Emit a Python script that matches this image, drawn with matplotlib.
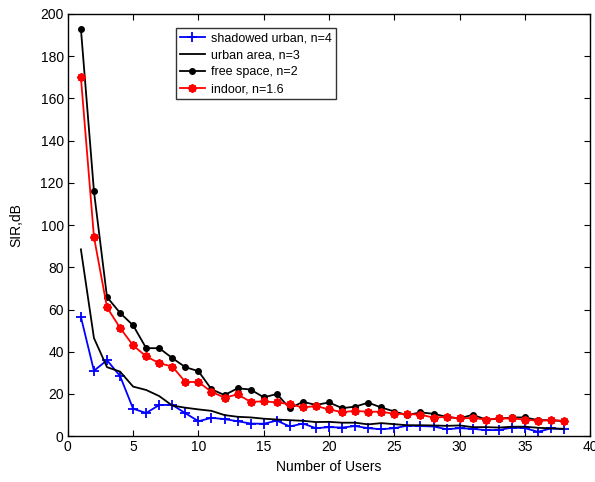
import numpy as np
import matplotlib as mpl
mpl.use("Agg")
import matplotlib.pyplot as plt

users = np.arange(1, 39)

shadowed_urban = [56.5, 31, 36, 28.5, 13, 11, 14.8, 14.8, 10.9, 7.1,
                  8.7, 8.1, 7.1, 6.0, 5.9, 7.4, 4.6, 6.0, 3.8, 4.3,
                  4.1, 4.8, 3.8, 3.3, 3.8, 5.0, 4.8, 4.6, 3.3, 3.8,
                  3.5, 2.9, 2.9, 4.1, 3.8, 2.1, 3.7, 3.3]
urban_area = [88.5, 46.5, 32.7, 30.6, 23.5, 21.9, 19, 14.5, 13.5, 12.7,
              12, 10, 9.2, 8.9, 8.3, 7.9, 7.6, 7.3, 6.7, 6.8,
              6.4, 6.4, 5.6, 6.2, 5.7, 5.2, 5.2, 5.1, 4.9, 5.1,
              4.3, 4.3, 4.1, 4.5, 4.5, 4.0, 3.7, 3.5]
free_space = [193, 116, 65.9, 58.4, 52.5, 41.7, 41.7, 37, 32.7, 30.8,
              22.2, 19.5, 22.7, 22.1, 18.4, 20, 13.2, 16.3, 14.8, 16,
              13.3, 14, 15.9, 13.6, 11.7, 10, 11.3, 10.6, 9.2, 8.4,
              10.2, 7.9, 8.2, 8.9, 8.9, 7.6, 7.6, 7.1]
indoor = [170, 94.4, 61, 51.3, 43, 37.8, 34.6, 33, 25.7, 25.7,
          21, 18.3, 19.8, 16.3, 16.5, 16, 15.2, 13.6, 14.3, 12.7,
          11.4, 12, 11.6, 11.6, 10.6, 10.5, 10.2, 8.8, 9.2, 8.4,
          8.7, 7.9, 8.4, 8.4, 7.9, 7.3, 7.6, 7.3]

mpl.rcParams.update({
    "font.family": ["Liberation Sans", "DejaVu Sans"],
    "font.size": 10,
    "xtick.direction": "in",
    "ytick.direction": "in",
    "xtick.top": True,
    "ytick.right": True,
    "axes.linewidth": 1.0,
})

fig = plt.figure(figsize=(5.95, 4.82), dpi=100)
ax = fig.add_axes([0.114, 0.095, 0.878, 0.876])

ax.plot(users, shadowed_urban, color="#0000ff", lw=1.3, marker="+",
        ms=6.5, mew=1.3, label="shadowed urban, n=4")
ax.plot(users, urban_area, color="black", lw=1.3, label="urban area, n=3")
ax.plot(users, free_space, color="black", lw=1.3, marker="o", ms=4,
        label="free space, n=2")
ax.plot(users, indoor, color="#ff0000", lw=1.3, marker=(8, 2, 0), ms=6,
        mew=1.4, label="indoor, n=1.6")

ax.set_xlim(0, 40)
ax.set_ylim(0, 200)
ax.set_xticks(range(0, 41, 5))
ax.set_yticks(range(0, 201, 20))
ax.tick_params(length=4, width=0.8, pad=3)
ax.set_xlabel("Number of Users", labelpad=4)
ax.set_ylabel("SIR,dB", labelpad=12)

leg = ax.legend(loc="upper left", bbox_to_anchor=(0.207, 0.966), fontsize=9,
                frameon=True, fancybox=False, edgecolor="black",
                borderpad=0.3, labelspacing=0.4, handlelength=2.0,
                handletextpad=0.5, borderaxespad=0)
leg.get_frame().set_linewidth(1.0)

fig.savefig("out.png", dpi=100)
